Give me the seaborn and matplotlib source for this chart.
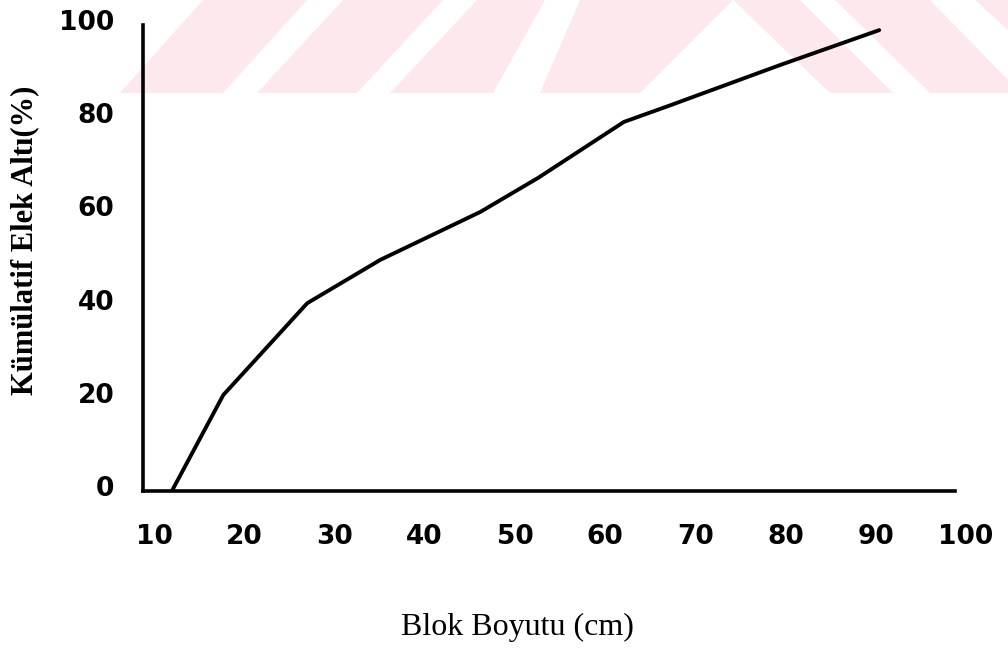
import matplotlib
matplotlib.use("Agg")
import matplotlib.pyplot as plt
import matplotlib.transforms as mtransforms
from matplotlib.patches import Polygon
import seaborn as sns
import pandas as pd

# ---- data ----
block_size_cm = [13.2, 18.9, 28.2, 36.3, 47.4, 53.8, 63.3, 68.2, 80.6, 91.6]
cum_passing_pct = [0.0, 20.6, 40.3, 49.6, 59.9, 67.2, 79.2, 82.6, 91.4, 98.9]
x_ticks = [10, 20, 30, 40, 50, 60, 70, 80, 90, 100]
y_ticks = [0, 20, 40, 60, 80, 100]
x_label = "Blok Boyutu (cm)"
y_label = "Kümülatif Elek Altı(%)"

df = pd.DataFrame({"x": block_size_cm, "y": cum_passing_pct})

sns.set_style("white")
W, H = 1008, 652
fig = plt.figure(figsize=(W / 100, H / 100), dpi=100)
fig.patch.set_facecolor("white")

# faint watermark band at the top, drawn on a background axes
bg = fig.add_axes([0, 0, 1, 1], zorder=-1)
bg.set_xlim(0, W)
bg.set_ylim(H, 0)
bg.axis("off")
pink = "#fde9ed"
stripes = [
    [(203, 0), (307, 0), (223, 93), (120, 93)],
    [(343, 0), (443, 0), (357, 93), (257, 93)],
    [(477, 0), (545, 0), (493, 93), (390, 93)],
    [(580, 0), (733, 0), (640, 93), (540, 93)],
    [(733, 0), (800, 0), (893, 93), (830, 93)],
    [(835, 0), (930, 0), (1008, 80), (1008, 93), (930, 93)],
    [(975, 0), (1008, 0), (1008, 30)],
]
for poly in stripes:
    bg.add_patch(Polygon(poly, closed=True, facecolor=pink, edgecolor="none"))

ax = fig.add_axes([143 / W, 1 - 491 / H, (955 - 143) / W, (491 - 25) / H], zorder=1)
ax.patch.set_alpha(0)

sns.lineplot(data=df, x="x", y="y", ax=ax, color="black", linewidth=2.8,
             estimator=None, sort=False)

ax.set_xlim(10, 100)
ax.set_ylim(0, 100)
ax.set_xticks(x_ticks)
ax.set_yticks(y_ticks)
ax.set_xticklabels([str(v) for v in x_ticks])
ax.set_yticklabels([str(v) for v in y_ticks])

for side in ["top", "right"]:
    ax.spines[side].set_visible(False)
for side in ["left", "bottom"]:
    ax.spines[side].set_color("black")
    ax.spines[side].set_linewidth(2.6)

ax.tick_params(axis="both", direction="inout", length=5, width=2, color="black",
               labelsize=19, labelcolor="black")
ax.tick_params(axis="x", pad=21)
ax.tick_params(axis="y", pad=18)
for lab in ax.get_xticklabels() + ax.get_yticklabels():
    lab.set_fontweight("bold")
    lab.set_fontfamily("DejaVu Sans")

# shift tick labels like in the scan
dx = mtransforms.ScaledTranslation(11 / 100, 0, fig.dpi_scale_trans)
for lab in ax.get_xticklabels():
    lab.set_transform(lab.get_transform() + dx)
dy = mtransforms.ScaledTranslation(0, 5 / 100, fig.dpi_scale_trans)
for lab in ax.get_yticklabels():
    lab.set_transform(lab.get_transform() + dy)

ax.set_xlabel("")
ax.set_ylabel("")
fig.text(517 / W, 1 - 627 / H, x_label, ha="center", va="center",
         fontsize=23, family="Liberation Serif", color="black")
fig.text(25 / W, 1 - 240 / H, y_label, ha="center", va="center", rotation=90,
         fontsize=22, fontweight="bold", family="Liberation Serif", color="black")

fig.savefig("out.png", dpi=100, facecolor="white")
